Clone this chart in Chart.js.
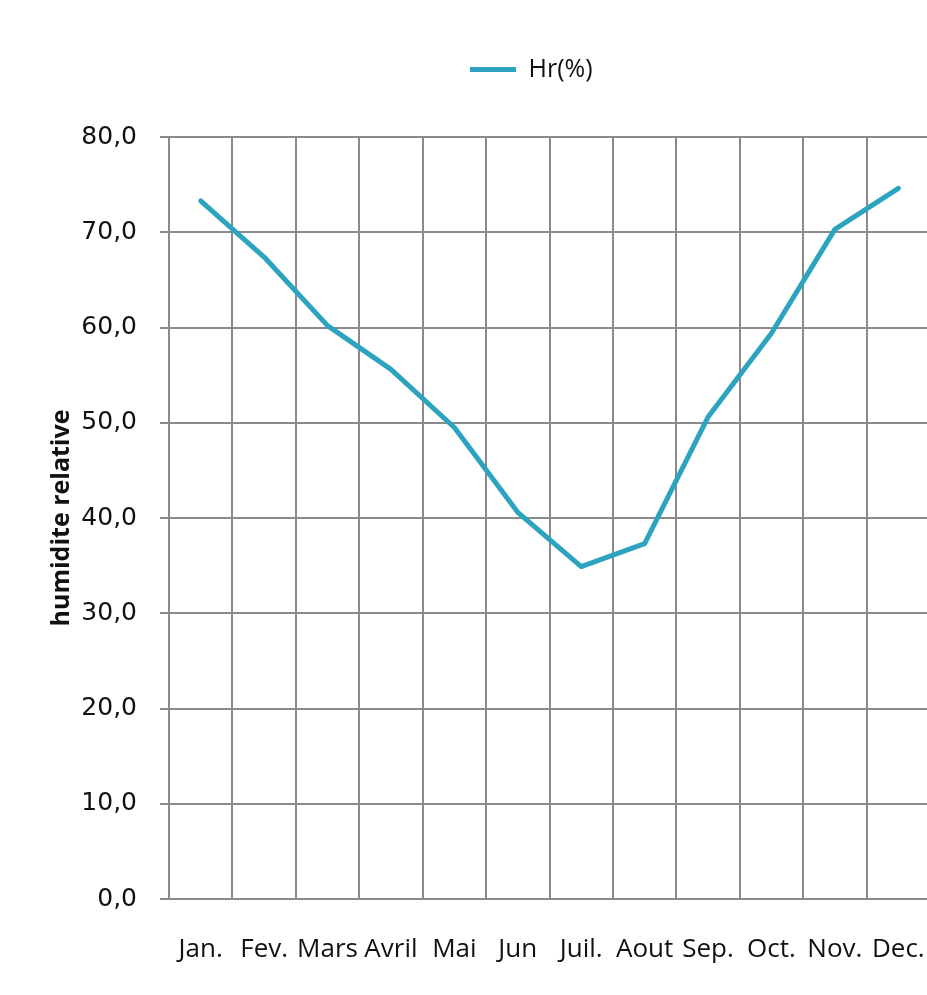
<!DOCTYPE html>
<html>
<head>
<meta charset="utf-8">
<script src="https://cdn.jsdelivr.net/npm/chart.js@4"></script>
<style>
  html, body { margin: 0; padding: 0; overflow: hidden; background: #fff; }
  canvas { display: block; }
</style>
</head>
<body>
<canvas id="hr" width="930" height="995"></canvas>
<script>
// Monthly relative humidity (%)
const months = ['Jan.', 'Fev.', 'Mars', 'Avril', 'Mai', 'Jun', 'Juil.', 'Aout', 'Sep.', 'Oct.', 'Nov.', 'Dec.'];
const humidity = [73.3, 67.4, 60.2, 55.6, 49.5, 40.6, 34.9, 37.3, 50.6, 59.4, 70.3, 74.6];
const seriesLabel = 'Hr(%)';
const axisTitle = 'humidite relative';
const yMin = 0, yMax = 80, yStep = 10;

const lineColor = '#2ca3bf';
const gridColor = '#8a8a8a';

// Places the legend entry above the plot, independent of the plot area box.
const legendPlacement = {
  id: 'legendPlacement',
  afterLayout(chart) {
    const lg = chart.legend;
    if (!lg || !lg.lineWidths) return;
    const lw = lg.lineWidths[0];
    const pad = lg.options.labels.padding;
    const startX = 470;
    lg.left = 0;
    lg.right = 2 * startX - pad + lw;
    lg.top = 47;
    lg.bottom = lg.top + lg.height;
  }
};

new Chart(document.getElementById('hr'), {
  type: 'line',
  data: {
    labels: months,
    datasets: [{
      label: seriesLabel,
      data: humidity,
      borderColor: lineColor,
      backgroundColor: lineColor,
      borderWidth: 5,
      borderCapStyle: 'round',
      borderJoinStyle: 'round',
      pointRadius: 0,
      pointHoverRadius: 0,
      tension: 0,
      fill: false
    }]
  },
  options: {
    responsive: false,
    animation: false,
    layout: { padding: { top: 92, left: 0, right: 0, bottom: 0 } },
    plugins: {
      tooltip: { enabled: false },
      legend: {
        position: 'top',
        labels: {
          usePointStyle: true,
          pointStyle: 'line',
          pointStyleWidth: 46,
          padding: 10,
          color: '#111',
          font: { family: '"Open Sans", sans-serif', size: 25 }
        }
      }
    },
    scales: {
      x: {
        type: 'category',
        offset: true,
        grid: {
          offset: true,
          color: gridColor,
          lineWidth: 2,
          drawTicks: false
        },
        border: { color: gridColor, width: 2 },
        ticks: {
          autoSkip: false,
          maxRotation: 0,
          minRotation: 0,
          padding: 35,
          color: '#111',
          font: { family: '"Open Sans", sans-serif', size: 26 }
        },
        afterFit(scale) {
          scale.height = 96;
          scale.paddingLeft = 0;
          scale.paddingRight = 0;
        }
      },
      y: {
        min: yMin,
        max: yMax,
        grid: {
          color: gridColor,
          lineWidth: 2,
          drawTicks: true,
          tickLength: 9
        },
        border: { color: gridColor, width: 2 },
        ticks: {
          stepSize: yStep,
          padding: 23,
          color: '#111',
          font: { family: '"DejaVu Sans", sans-serif', size: 25 },
          callback: (v) => Number(v).toFixed(1).replace('.', ',')
        },
        title: {
          display: true,
          text: axisTitle,
          color: '#111',
          padding: { top: 47, bottom: 0 },
          font: { family: '"Open Sans", sans-serif', size: 25, weight: 'bold' }
        },
        afterFit(scale) {
          scale.width = 169;
        }
      }
    }
  },
  plugins: [legendPlacement]
});
</script>
</body>
</html>
